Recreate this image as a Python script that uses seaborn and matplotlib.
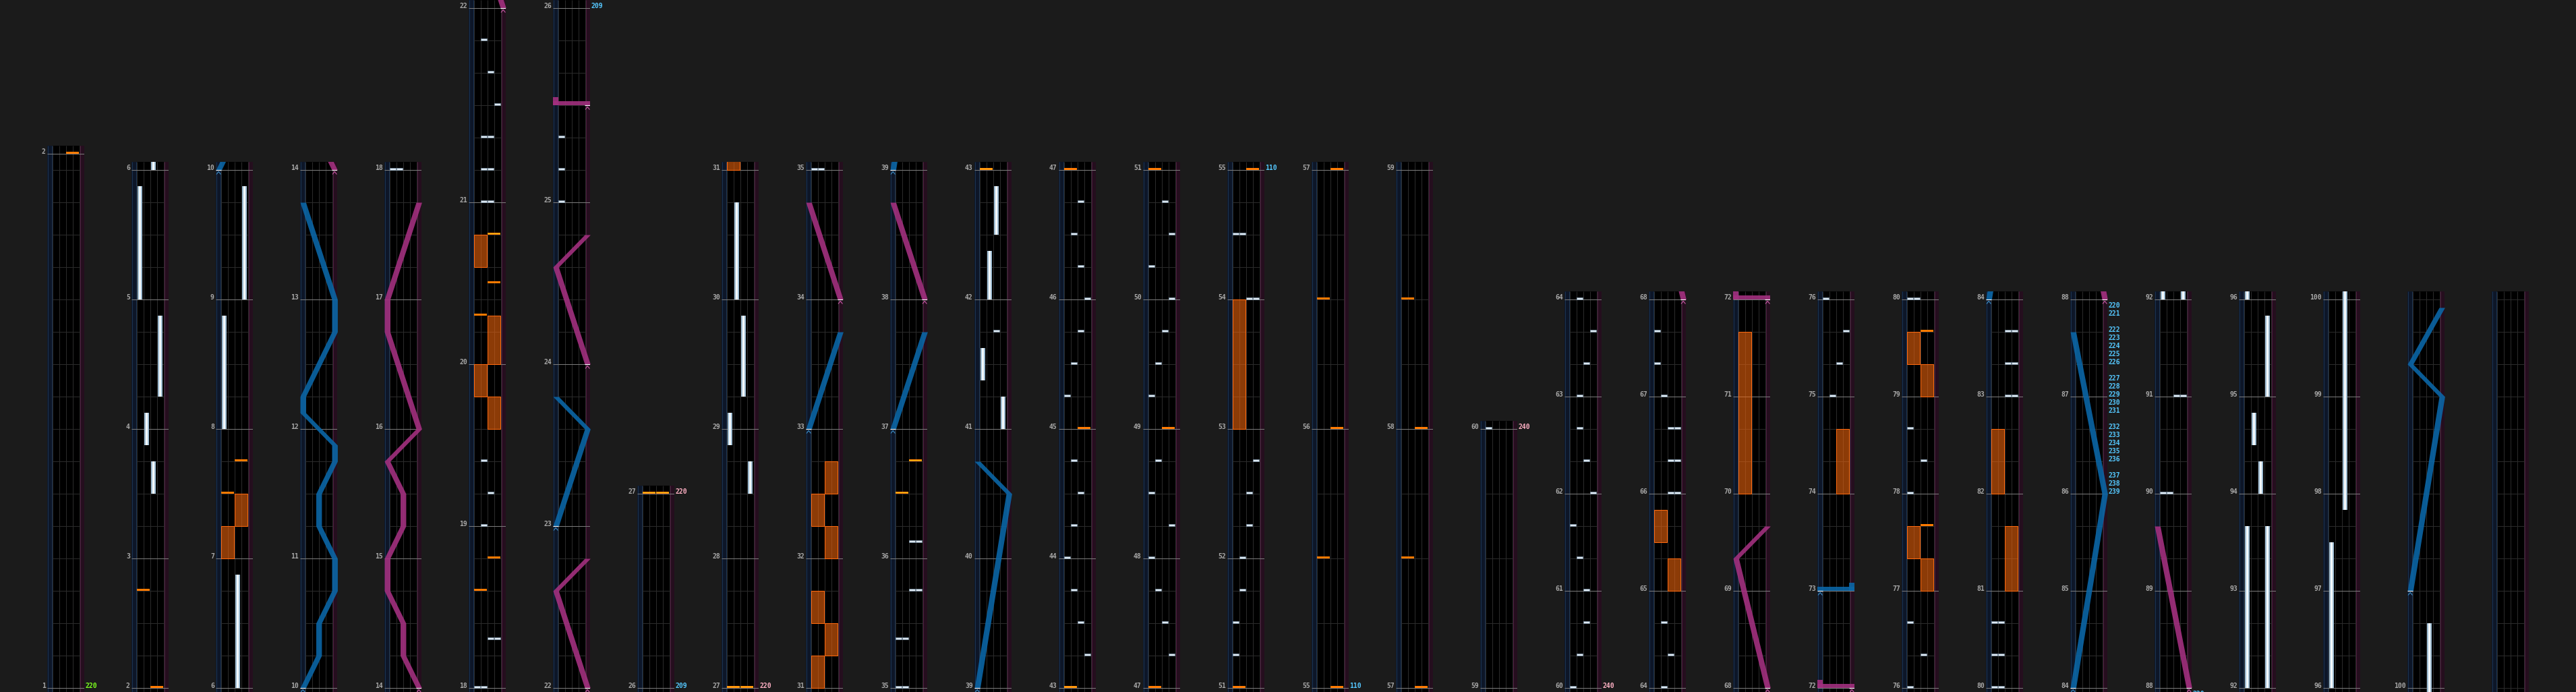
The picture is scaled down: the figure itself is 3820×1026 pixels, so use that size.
import numpy as np
import matplotlib
matplotlib.use("Agg")
import matplotlib.pyplot as plt
import seaborn as sns

# measure lengths in beats (1 beat = 48 px), subdivision step per measure
MEASURE_LEN = [16.5] + [4] * 16 + [5, 5, 5, 6] + [5, 5, 5, 6] + [6] + [4] * 28 + [8] * 5 + [3] * 48
SUBDIV = [1] * 54 + [2] * 5 + [1] * 48
LAST_LABELED = 100

# columns: first measure and number of measures
COL_FIRST = [1, 2, 6, 10, 14, 18, 22, 26, 27, 31, 35, 39, 43, 47, 51, 55, 57, 59,
             60, 64, 68, 72, 76, 80, 84, 88, 92, 96, 100, 104]
COL_COUNT = [1, 4, 4, 4, 4, 4, 4, 1, 4, 4, 4, 4, 4, 4, 4, 2, 2, 1,
             4, 4, 4, 4, 4, 4, 4, 4, 4, 4, 4, 4]

# (measure, beat offset, lane 0-3)
BT_CHIPS = [
    (18, 0, 0), (18, 0, 1), (18, 1.5, 2), (18, 1.5, 3),
    (19, 0, 1), (19, 1, 2), (19, 2, 1),
    (21, 0, 1), (21, 0, 2), (21, 1, 1), (21, 1, 2), (21, 2, 1), (21, 2, 2),
    (21, 3, 3), (21, 4, 2), (21, 5, 1),
    (25, 0, 0), (25, 1, 0), (25, 2, 0),
    (35, 0, 0), (35, 0, 1), (35, 1.5, 0), (35, 1.5, 1), (35, 3, 2), (35, 3, 3),
    (36, 0.5, 2), (36, 0.5, 3),
    (41, 3, 2),
    (43, 1, 3), (43, 2, 2), (43, 3, 1), (44, 0, 0), (44, 1, 1), (44, 2, 2), (44, 3, 1),
    (45, 1, 0), (45, 2, 1), (45, 3, 2), (46, 0, 3), (46, 1, 2), (46, 2, 1), (46, 3, 2),
    (47, 1, 3), (47, 2, 2), (47, 3, 1), (48, 0, 0), (48, 1, 3), (48, 2, 0), (48, 3, 1),
    (49, 1, 0), (49, 2, 1), (49, 3, 2), (50, 0, 3), (50, 1, 0), (50, 2, 3), (50, 3, 2),
    (51, 1, 0), (51, 2, 0), (51, 3, 1), (52, 0, 1), (52, 1, 2), (52, 2, 2), (52, 3, 3),
    (54, 0, 2), (54, 0, 3), (54, 2, 0), (54, 2, 1),
    (60, 0, 0), (60, 1, 1), (60, 2, 2), (61, 0, 2), (61, 1, 1), (61, 2, 0),
    (62, 0, 3), (62, 1, 2), (62, 2, 1), (63, 0, 1), (63, 1, 2), (63, 2, 3),
    (64, 0, 1), (64, 1, 2), (64, 2, 1),
    (66, 0, 2), (66, 0, 3), (66, 1, 2), (66, 1, 3), (66, 2, 2), (66, 2, 3),
    (67, 0, 1), (67, 1, 0), (67, 2, 0),
    (75, 0, 1), (75, 1, 2), (75, 2, 3),
    (76, 0, 0), (76, 1, 2), (76, 2, 0), (78, 0, 0), (78, 1, 2), (78, 2, 0),
    (80, 0, 0), (80, 0, 1), (80, 1, 0), (80, 1, 1), (80, 2, 0), (80, 2, 1),
    (83, 0, 2), (83, 0, 3), (83, 1, 2), (83, 1, 3), (83, 2, 2), (83, 2, 3),
    (90, 0, 0), (90, 0, 1), (91, 0, 2), (91, 0, 3),
]

# (measure, offset, side 0=L 1=R, bright)
FX_CHIPS = [
    (2, 0, 1, 0), (2, 3, 0, 0), (7, 2, 0, 0), (7, 3, 1, 0),
    (18, 3, 0, 0), (18, 4, 1, 0), (20, 1.5, 0, 0), (20, 2.5, 1, 0), (20, 4, 1, 1),
    (27, 0, 0, 1), (27, 0, 1, 1), (36, 2, 0, 1), (36, 3, 1, 1), (43, 0, 0, 1),
    (45, 0, 1, 0), (47, 0, 0, 0), (49, 0, 1, 0), (51, 0, 0, 0),
    (55, 0, 1, 0), (55, 4, 0, 0), (56, 0, 1, 0), (56, 4, 0, 0),
    (57, 0, 1, 0), (57, 4, 0, 0), (58, 0, 1, 0), (58, 4, 0, 0),
    (77, 2, 1, 0), (79, 2, 1, 0),
]

# (measure, offset, length, lane)
BT_HOLDS = [
    (3, 2, 1, 2), (3, 3.5, 1, 1), (4, 1, 2.5, 3), (5, 0, 3.5, 0), (6, 0, 3.5, 2),
    (8, 0, 3.5, 0), (9, 0, 3.5, 3),
    (28, 2, 1, 3), (28, 3.5, 1, 0), (29, 1, 2.5, 2), (30, 0, 3, 1),
    (41, 0, 1, 3), (41, 1.5, 1, 0), (42, 0, 1.5, 1), (42, 2, 1.5, 2),
    (92, 0, 5, 0), (92, 0, 5, 3), (94, 0, 1, 2), (94, 1.5, 1, 1), (95, 0, 2.5, 3),
    (96, 0, 4.5, 0), (97, 2.5, 8.5, 2),
]

# (measure, offset, length, side)
FX_HOLDS = [
    (7, 0, 1, 0), (7, 1, 1, 1),
    (19, 3, 1, 1), (19, 4, 1, 0), (20, 0, 1.5, 1), (20, 3, 1, 0),
    (31, 0, 1, 0), (31, 1, 1, 1), (31, 2, 1, 0), (32, 0, 1, 1), (32, 1, 1, 0), (32, 2, 1, 1),
    (53, 0, 4, 0), (65, 0, 1, 1), (65, 1.5, 1, 0), (70, 0, 5, 0), (74, 0, 2, 1),
    (77, 0, 1, 1), (77, 1, 1, 0), (79, 0, 1, 1), (79, 1, 1, 0), (81, 0, 2, 1), (82, 0, 2, 0),
]

# laser points: (measure, offset, position 0..1)
BLUE_LASERS = [
    [(10, 0, 0), (10, 1, .5), (10, 2, .5), (10, 3, 1), (11, 0, 1), (11, 1, .5), (11, 2, .5),
     (11, 3, 1), (11, 3.5, 1), (12, 0.5, 0), (12, 1, 0), (12, 3, 1), (13, 0, 1), (13, 3, 0)],
    [(23, 0, 0), (23, 3, 1), (23, 4, 0)],
    [(33, 0, 0), (33, 3, 1)],
    [(37, 0, 0), (37, 3, 1)],
    [(39, 0, 0), (40, 2, 1), (40, 3, 0)],
    [(84, 0, 0), (86, 0, 1), (87, 2, 0)],
    [(101, 0, 0), (103, 0, 1), (103, 1, 0), (103, 2.75, 1)],
]
PINK_LASERS = [
    [(14, 0, 1), (14, 1, .5), (14, 2, .5), (14, 3, 0), (15, 0, 0), (15, 1, .5), (15, 2, .5),
     (15, 3, 0), (16, 0, 1), (16, 3, 0), (17, 0, 0), (17, 3, 1)],
    [(22, 0, 1), (22, 3, 0), (22, 4, 1)],
    [(24, 0, 1), (24, 3, 0), (24, 4, 1)],
    [(34, 0, 1), (34, 3, 0)],
    [(38, 0, 1), (38, 3, 0)],
    [(68, 0, 1), (69, 1, 0), (69, 2, 1)],
    [(88, 0, 1), (89, 2, 0)],
]
# (measure, offset, from, to, colour)
SLAMS = [(25, 3, 1, 0, "pink"), (72, 0, 1, 0, "pink"), (73, 0, 0, 1, "blue")]

# bpm labels
BPM_MEASURE = [1, 26, 27, 55, 60] + [86] * 10 + [87] * 10
BPM_OFFSET = [0, 0, 0, 0, 0,
              0, 0.25, 0.5, 1, 1.25, 1.5, 1.75, 2, 2.5, 2.75,
              0, 0.25, 0.5, 1, 1.25, 1.5, 1.75, 2, 2.5, 2.75]
BPM_TEXT = ["220", "209", "220", "110", "240"] + [str(v) for v in range(239, 219, -1)]
BPM_KIND = ["start", "down", "up", "down", "up"] + ["down"] * 20

BPM_COLORS = {"start": "#7dff1e", "down": "#55c8ff", "up": "#ffb0c4"}
LASER_COLORS = {"blue": "#0b66a6", "pink": "#a3307f"}
MARK_COLORS = {"blue": "#3d8fc8", "pink": "#c85aa6"}

sns.set_theme(style="dark", rc={"figure.facecolor": "#1b1b1b", "axes.facecolor": "black"})
plt.rcParams["font.family"] = ["DejaVu Sans Mono", "DejaVu Sans"]

W, H = 3820, 1026
PX = 48.0
X0, X1 = -0.77, 4.77
HW = 0.42
LW = 0.72

starts = np.concatenate([[0.0], np.cumsum(MEASURE_LEN)])


def t_of(m, off):
    return starts[m - 1] + off


def xpos(p):
    return -0.35 + 4.7 * p


fig = plt.figure(figsize=(W / 100, H / 100), dpi=100)
fig.patch.set_facecolor("#1b1b1b")

for c, (first, count) in enumerate(zip(COL_FIRST, COL_COUNT)):
    s = starts[first - 1]
    e = starts[first - 1 + count]
    lo, hi = s - 0.125, e + 0.25
    left = 70 + 125 * c
    ax = fig.add_axes([left / W, 0, (X1 - X0) * 10 / W, (hi - lo) * PX / H])
    ax.set_xlim(X0, X1)
    ax.set_ylim(lo, hi)
    ax.set_xticks([])
    ax.set_yticks([])
    for sp in ax.spines.values():
        sp.set_visible(False)
    ax.set_facecolor("black")

    # lanes
    ax.axvspan(X0, 0, color="#0d1628", lw=0, zorder=0)
    ax.axvspan(4, X1, color="#250e1e", lw=0, zorder=0)
    ax.vlines([X0 + 0.06, -0.08], lo, hi, colors="#1b3350", lw=LW, zorder=1)
    ax.vlines([4.08, X1 - 0.06], lo, hi, colors="#4a1a3c", lw=LW, zorder=1)
    ax.vlines([0, 1, 2, 3, 4], lo, hi, colors="#2b2b2b", lw=LW, zorder=1)

    # beat lines
    for m in range(first, first + count):
        ks = np.arange(SUBDIV[m - 1], MEASURE_LEN[m - 1] - 1e-6, SUBDIV[m - 1])
        ax.hlines(starts[m - 1] + ks, 0, 4, colors="#2b2b2b", lw=LW, zorder=1)
    for m in range(first, first + count + 1):
        y = starts[m - 1]
        if m <= LAST_LABELED:
            ax.hlines(y, X0, X1, colors="#7c7c7c", lw=LW, zorder=2)
            ax.text(X0 - 0.22, y, str(m), ha="right", va="baseline", color="#a8a8a8",
                    fontsize=7, fontweight="bold", clip_on=False)
        else:
            ax.hlines(y, 0, 4, colors="#2b2b2b", lw=LW, zorder=1)

    def inside(t0, t1):
        return t1 >= lo - 0.3 and t0 <= hi + 0.3

    # fx holds
    for m, off, ln, side in FX_HOLDS:
        t = t_of(m, off)
        if inside(t, t + ln):
            ax.bar(2 * side + 1, ln, width=1.9, bottom=t, facecolor=(0.92, 0.39, 0.05, 0.6),
                   edgecolor="#ff6a10", linewidth=LW, zorder=3)
    # bt holds
    for m, off, ln, lane in BT_HOLDS:
        t = t_of(m, off)
        if inside(t, t + ln):
            ax.bar(lane + 0.5, ln, width=0.7, bottom=t, color="#9fbdd3", lw=0, zorder=4)
            ax.bar(lane + 0.5, ln, width=0.32, bottom=t, color="#f4f9fc", lw=0, zorder=4)
    # fx chips
    for m, off, side, bright in FX_CHIPS:
        t = t_of(m, off)
        if inside(t, t):
            ax.bar(2 * side + 1, 3 / PX, width=1.9, bottom=t, color="#ff7a00", lw=0, zorder=5)
            if bright:
                ax.bar(2 * side + 1, 1 / PX, width=1.9, bottom=t + 1 / PX, color="#ffc21a",
                       lw=0, zorder=5)
    # bt chips
    for m, off, lane in BT_CHIPS:
        t = t_of(m, off)
        if inside(t, t):
            ax.bar(lane + 0.5, 3 / PX, width=0.9, bottom=t, color="#dde8f1",
                   edgecolor="#7f9bb5", linewidth=0.4, zorder=6)

    # lasers
    for lasers, col in ((BLUE_LASERS, "blue"), (PINK_LASERS, "pink")):
        for pts in lasers:
            ts = np.array([t_of(m, off) for m, off, p in pts])
            xs = np.array([xpos(p) for m, off, p in pts])
            if not inside(ts.min(), ts.max()):
                continue
            ax.fill_betweenx(ts, xs - HW, xs + HW, color=LASER_COLORS[col], alpha=0.9,
                             lw=0, zorder=7)
            ax.hlines(ts[0], xs[0] - HW, xs[0] + HW, colors="white", lw=0.8, zorder=8)
            ax.plot([xs[0] - 0.3, xs[0], xs[0] + 0.3], [ts[0] - 0.13, ts[0] - 0.05, ts[0] - 0.13],
                    color=MARK_COLORS[col], lw=0.8, zorder=8)
    for m, off, pa, pb, col in SLAMS:
        t = t_of(m, off)
        if not inside(t, t + 0.25):
            continue
        ax.bar((X0 + X1) / 2, 6 / PX, width=X1 - X0, bottom=t, color=LASER_COLORS[col],
               alpha=0.9, lw=0, zorder=7)
        ax.bar(xpos(pb), 12 / PX, width=2 * HW, bottom=t, color=LASER_COLORS[col],
               alpha=0.9, lw=0, zorder=7)
        xa = xpos(pa)
        ax.hlines(t, xa - HW, xa + HW, colors="white", lw=0.8, zorder=8)
        ax.plot([xa - 0.3, xa, xa + 0.3], [t - 0.13, t - 0.05, t - 0.13],
                color=MARK_COLORS[col], lw=0.8, zorder=8)

    # bpm labels
    for m, off, txt, kind in zip(BPM_MEASURE, BPM_OFFSET, BPM_TEXT, BPM_KIND):
        t = t_of(m, off)
        if lo - 0.3 <= t <= hi:
            ax.text(X1 + 0.12, t, txt, ha="left", va="baseline", color=BPM_COLORS[kind],
                    fontsize=7, fontweight="bold", clip_on=False)

fig.savefig("out.png", dpi=100, facecolor=fig.get_facecolor())
